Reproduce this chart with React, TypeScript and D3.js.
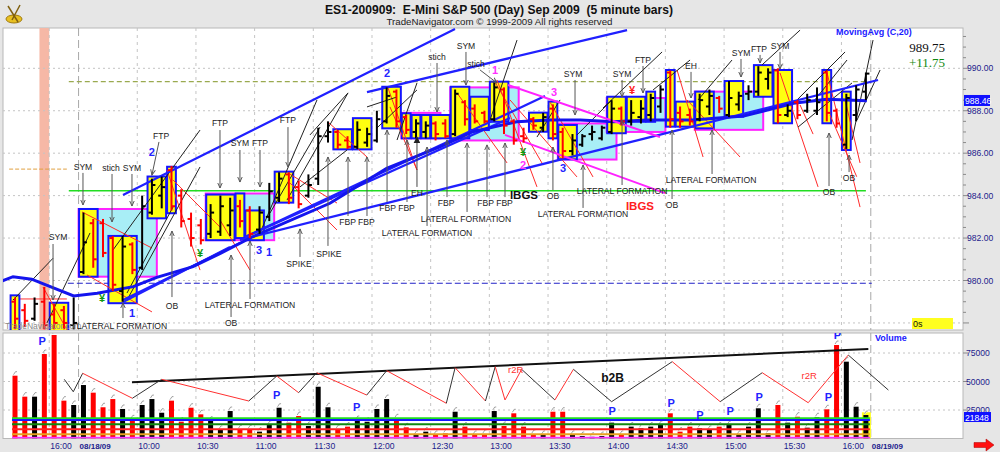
import React from "react";
import * as d3 from "d3";

// ---------------- DATA ----------------
const opens = [
  979.0, 978.6, 978.2, 979.0, 978.4, 978.6, 977.9, 980.4, 982.7, 982.7,
  982.0, 979.5, 981.7, 980.6, 983.2, 984.0, 985.2, 984.0, 982.9, 982.6,
  982.2, 982.3, 982.6, 983.5, 983.3, 982.4, 983.0, 983.9, 985.0, 984.4,
  984.0, 984.8, 986.8, 987.0, 986.6, 986.3, 986.5, 986.6, 987.5, 988.9,
  987.7, 987.0, 987.0, 987.4, 987.4, 986.9, 988.4, 988.1, 987.9, 987.6,
  989.0, 987.5, 986.8, 987.6, 987.2, 988.1, 987.0, 986.1, 986.4, 986.9,
  986.7, 987.0, 988.1, 987.5, 987.7, 987.8, 988.2, 989.8, 987.9, 987.8,
  987.6, 988.2, 988.6, 987.8, 988.3, 988.8, 988.9, 989.5, 989.9, 987.8,
  988.4, 988.0, 988.0, 989.8, 988.0, 986.4, 987.8, 988.9,
];
const highs = [
  979.2, 978.9, 979.2, 979.7, 978.9, 978.8, 979.2, 983.2, 982.9, 982.9,
  982.1, 982.1, 981.8, 984.0, 984.8, 984.9, 985.4, 984.3, 983.2, 982.9,
  983.6, 984.0, 983.9, 983.8, 983.5, 983.5, 984.6, 985.1, 985.1, 984.7,
  985.0, 987.2, 987.5, 987.1, 986.8, 987.5, 987.2, 988.0, 989.1, 989.0,
  987.8, 987.6, 987.5, 987.5, 987.6, 989.0, 988.5, 988.3, 988.0, 989.35,
  989.1, 987.6, 987.2, 987.7, 987.9, 988.3, 987.2, 986.9, 986.9, 987.3,
  987.3, 988.5, 988.2, 988.5, 988.5, 988.8, 989.2, 989.9, 988.2, 988.1,
  988.8, 989.0, 988.7, 989.4, 988.9, 989.2, 990.1, 990.0, 990.0, 988.3,
  988.5, 988.8, 989.1, 989.9, 988.1, 988.8, 989.2, 989.8,
];
const lows = [
  977.7, 977.8, 978.1, 977.7, 977.7, 977.7, 977.7, 980.3, 980.6, 981.1,
  979.5, 979.0, 980.3, 980.5, 983.1, 983.4, 983.3, 982.5, 981.6, 981.7,
  982.0, 982.1, 982.1, 982.5, 982.0, 982.2, 982.8, 983.7, 983.6, 983.4,
  983.9, 984.5, 986.5, 986.2, 986.2, 986.2, 986.3, 986.5, 987.4, 987.2,
  986.9, 986.7, 986.7, 986.6, 986.7, 986.8, 987.3, 987.4, 987.4, 987.5,
  986.9, 986.4, 986.5, 987.1, 987.0, 986.6, 985.75, 985.9, 986.3, 986.6,
  986.6, 986.9, 987.3, 987.3, 987.4, 987.5, 987.9, 987.2, 987.2, 987.3,
  987.5, 987.8, 987.9, 987.7, 988.0, 988.5, 988.7, 989.0, 987.4, 987.7,
  987.6, 987.9, 987.8, 987.5, 987.2, 986.2, 987.5, 988.5,
];
const closes = [
  978.2, 978.1, 978.9, 977.9, 978.0, 978.0, 978.0, 981.8, 981.0, 981.3,
  979.8, 981.6, 980.5, 983.5, 984.5, 984.4, 983.5, 982.8, 982.0, 981.9,
  983.2, 983.5, 983.3, 982.8, 982.2, 983.2, 984.2, 984.8, 983.9, 983.6,
  984.5, 986.8, 987.0, 986.4, 986.3, 987.1, 986.9, 987.6, 988.7, 987.5,
  987.1, 987.4, 987.3, 986.9, 986.8, 988.8, 987.6, 987.5, 987.5, 989.1,
  987.3, 986.6, 986.7, 987.3, 987.7, 986.9, 986.1, 986.6, 986.8, 987.0,
  987.2, 988.1, 987.5, 987.9, 988.1, 988.6, 989.0, 987.6, 987.5, 987.5,
  988.5, 988.7, 988.1, 988.6, 988.7, 988.9, 989.8, 989.8, 987.8, 988.0,
  987.8, 988.5, 988.4, 987.9, 987.4, 988.6, 989.0, 989.75,
];
const volumes = [
  55100, 36700, 36700, 74100, 90800, 33200, 29400, 46900, 40200, 27400,
  34600, 25900, 16800, 29400, 34600, 22600, 33200, 14800, 27000, 21200,
  15600, 7500, 24100, 8100, 8100, 6000, 11800, 27000, 13900, 19700,
  11000, 45400, 27400, 8300, 10400, 16200, 14700, 25900, 34600, 17700,
  9800, 3100, 6000, 3100, 4500, 23500, 10400, 3100, 4000, 24100,
  11000, 22100, 10400, 3900, 3100, 23500, 23500, 3100, 2200, 1500,
  2200, 13900, 3100, 10400, 8900, 10400, 11800, 22100, 6000, 10400,
  8900, 7500, 10400, 11800, 3100, 10400, 26500, 4500, 29400, 13900,
  19100, 9500, 18600, 25600, 82000, 67400, 27900, 20600,
];

const timeLabels = ["16:00", "10:00", "10:30", "11:00", "11:30", "12:00", "12:30", "13:00", "13:30", "14:00", "14:30", "15:00", "15:30", "16:00"];
const timeLabelBars = [3, 12, 18, 24, 30, 36, 42, 48, 54, 60, 66, 72, 78, 84];
const dateLabels = ["08/18/09", "08/19/09"];
const dateLabelBars = [6, 87];
const priceTicks = [978, 980, 982, 984, 986, 988, 990];
const volumeTicks = [25000, 50000, 75000];

// moving average (C,20): [bar, price]
const maPoints: [number, number][] = [
  [-1.5, 979.94], [-0.2, 980.18], [1.7, 980.06], [2.9, 979.84], [6.0, 979.27], [8.4, 979.4],
  [12.1, 979.71], [14.5, 980.15], [18.2, 980.65], [21.0, 981.28], [24.3, 982.06], [32.2, 983.64],
  [38.0, 985.29], [43.5, 986.31], [46.8, 987.01], [51.3, 987.48], [54.7, 987.56], [57.8, 987.56],
  [61.2, 987.48], [64.6, 987.56], [69.3, 987.56], [74.5, 987.75], [79.6, 988.35], [83.0, 988.54],
  [87.1, 988.47],
];

// yellow pattern boxes [firstBar, lastBar, top, bottom]
const yellowBoxes = [
  [0, 0, 979.3, 977.6], [4, 5, 978.95, 977.6], [7, 8, 983.37, 980.18], [10, 12, 982.1, 978.93],
  [14, 15, 984.9, 982.93], [16, 16, 985.36, 983.17], [20, 22, 984.05, 981.9], [23, 23, 984.1, 982.0],
  [24, 25, 983.3, 981.9], [27, 28, 985.13, 983.67], [33, 34, 987.13, 986.18], [35, 36, 987.65, 986.18],
  [38, 39, 989.13, 987.17], [40, 40, 987.88, 986.7], [41, 41, 987.8, 986.7], [42, 42, 987.8, 986.7],
  [43, 44, 987.8, 986.7], [45, 46, 989.13, 986.7], [47, 48, 988.66, 987.09], [49, 50, 989.37, 987.48],
  [53, 54, 987.91, 987.01], [55, 55, 988.43, 986.7], [56, 57, 987.33, 985.71], [61, 62, 988.66, 986.94],
  [63, 64, 988.66, 987.48], [65, 65, 988.9, 987.48], [67, 67, 989.92, 987.25], [68, 69, 988.43, 987.25],
  [70, 71, 988.9, 987.17], [73, 74, 989.4, 987.72], [76, 77, 990.15, 988.66], [78, 79, 989.92, 987.41],
  [83, 83, 989.92, 987.41], [85, 85, 988.9, 986.15],
];
// cyan consolidation boxes
const cyanBoxes = [
  [7, 14, 983.37, 980.18], [20, 26, 984.1, 981.9], [40, 43, 987.9, 986.7], [45, 51, 989.1, 986.6],
  [56, 61, 987.4, 985.7], [61, 66, 988.6, 987.0], [70, 76, 988.9, 987.1],
];

// trend lines [bar1, price1, bar2, price2]
const blueLines = [
  [11.04, 984.03, 44.99, 991.85], [35.99, 988.88, 62.58, 991.8], [23.0, 981.91, 88.24, 989.45],
  [23.52, 982.05, 54.19, 988.69], [23.52, 982.05, 50.61, 987.66], [11.04, 979.08, 23.0, 981.77],
  [11.04, 978.98, 21.98, 981.58],
];
const magentaLines = [
  [50.41, 989.21, 65.95, 986.76], [50.1, 986.86, 66.46, 984.12],
];
const redLines = [
  [6.85, 983.23, 14.0, 981.53], [7.36, 980.26, 14.0, 978.52], [15.54, 985.21, 18.92, 980.49],
  [16.15, 984.74, 20.96, 982.52], [20.96, 982.85, 24.03, 980.49], [27.91, 985.07, 32.92, 983.65],
  [28.12, 984.59, 32.92, 982.38], [32.0, 987.47, 35.99, 985.82], [38.14, 989.07, 41.1, 985.21],
  [45.19, 988.84, 50.31, 985.54], [38.34, 988.18, 41.1, 985.21], [49.28, 989.45, 53.37, 984.41],
  [49.08, 989.35, 54.0, 985.44], [50.61, 988.51, 57.46, 984.88], [54.7, 988.41, 59.1, 984.88],
  [67.69, 989.92, 70.35, 985.82], [68.71, 988.51, 74.13, 985.82], [78.22, 989.78, 82.11, 984.41],
  [83.03, 989.78, 86.4, 983.46], [84.87, 988.51, 86.4, 985.54], [2.86, 979.69, 5.32, 977.67],
  [80.27, 988.27, 81.6, 986.9], [83.33, 987.8, 86.06, 984.89],
];
const blackLines = [
  [-0.2, 979.08, 3.89, 981.05], [3.27, 978.0, 7.67, 982.24], [10.02, 981.44, 18.92, 987.09],
  [11.45, 979.08, 18.92, 985.35], [11.45, 979.41, 16.15, 983.46], [25.05, 982.24, 30.88, 988.51],
  [26.07, 983.18, 31.19, 987.23], [27.81, 983.79, 34.05, 988.84], [29.14, 984.41, 33.95, 986.15],
  [30.16, 986.86, 34.05, 988.84], [35.99, 988.18, 39.06, 988.65], [37.01, 987.19, 41.1, 988.98],
  [39.06, 986.62, 41.1, 989.31], [48.57, 987.56, 51.33, 991.33], [53.37, 986.76, 55.73, 988.51],
  [60.12, 988.13, 66.16, 990.77], [65.24, 988.98, 69.02, 990.39], [69.84, 988.51, 73.31, 990.39],
  [76.38, 990.16, 80.27, 991.8], [79.96, 988.51, 84.87, 990.77], [80.06, 987.23, 85.58, 989.31],
  [85.58, 986.62, 87.73, 991.33], [86.09, 987.56, 88.45, 989.92], [81.6, 988.41, 85.07, 990.39],
  [57.46, 986.86, 61.04, 988.51],
];

// reference levels
const levelGreen = 984.23;
const levelOlive = 989.37;
const levelBlue = 979.87;
const levelOrange = 985.25;
const levelRed = 979.13;

// annotations [text, bar, price(baseline)]
const notes: [string, number, number][] = [
  ["SYM", 4.4, 981.9], ["SYM", 6.95, 985.2], ["stich", 9.82, 985.16], ["SYM", 11.96, 985.16],
  ["FTP", 14.93, 986.67], ["OB", 16.05, 978.66], ["LATERAL FORMATION", 10.94, 977.72],
  ["FTP", 20.96, 987.28], ["SYM", 23.0, 986.34], ["FTP", 25.05, 986.34], ["FTP", 27.9, 987.42],
  ["LATERAL FORMATION", 24.03, 978.7], ["OB", 22.1, 977.86], ["SPIKE", 29.04, 980.64],
  ["SPIKE", 32.1, 981.11], ["FBP FBP", 34.97, 982.62], ["FBP FBP", 39.06, 983.28], ["EH", 41.1, 983.98],
  ["LATERAL FORMATION", 42.13, 982.1], ["FBP", 44.07, 983.51], ["LATERAL FORMATION", 46.11, 982.76],
  ["FBP FBP", 49.08, 983.51], ["stich", 43.15, 990.39], ["SYM", 46.11, 990.91], ["stich", 47.14, 990.06],
  ["OB", 55.0, 983.84], ["LATERAL FORMATION", 58.08, 982.99], ["LATERAL FORMATION", 62.07, 984.08],
  ["SYM", 57.06, 989.59], ["SYM", 62.07, 989.59], ["FTP", 64.21, 990.25], ["EH", 69.12, 989.97],
  ["OB", 67.18, 983.42], ["LATERAL FORMATION", 71.17, 984.59], ["SYM", 74.23, 990.58],
  ["FTP", 76.07, 990.77], ["SYM", 78.22, 990.91], ["OB", 83.23, 984.03], ["OB", 85.28, 984.69],
];
const boldNotes: [string, number, number, string][] = [
  ["IBGS", 52.04, 983.84, "#111"], ["IBGS", 63.9, 983.32, "#ff2020"],
];
const arrows = [
  [3.89, 981.72, 3.89, 979.08], [6.95, 985.07, 6.95, 983.56], [9.92, 985.02, 9.92, 982.76],
  [11.96, 985.02, 11.96, 983.51], [14.72, 986.53, 14.0, 984.97], [16.05, 979.22, 16.05, 982.33],
  [11.04, 978.23, 11.04, 978.94], [20.96, 987.09, 20.96, 984.36], [23.0, 986.15, 23.0, 984.64],
  [25.05, 986.15, 25.05, 984.41], [27.91, 987.23, 27.91, 985.35], [24.03, 979.13, 24.03, 981.86],
  [22.09, 978.28, 22.09, 981.2], [29.14, 981.11, 29.14, 982.43], [32.0, 981.63, 32.0, 985.82],
  [34.05, 983.04, 34.05, 985.82], [35.99, 983.04, 35.99, 985.82], [38.04, 983.7, 38.04, 987.09],
  [40.08, 983.7, 40.08, 986.62], [42.13, 982.57, 42.13, 986.29], [44.17, 983.93, 44.17, 986.62],
  [46.22, 983.23, 46.22, 986.48], [48.26, 983.93, 48.26, 986.39], [50.1, 983.93, 50.1, 986.48],
  [43.15, 990.25, 43.15, 987.94], [46.11, 990.77, 46.11, 989.21], [47.55, 989.92, 49.28, 989.31],
  [55.0, 984.26, 55.0, 986.29], [58.08, 983.42, 58.08, 985.44], [62.07, 984.5, 62.07, 987.56],
  [57.26, 989.45, 57.26, 987.8], [62.07, 989.45, 62.07, 988.65], [64.21, 990.11, 64.21, 988.84],
  [69.12, 989.83, 69.12, 988.6], [67.18, 983.84, 67.18, 987.09], [71.27, 985.02, 71.27, 987.09],
  [74.23, 990.44, 74.23, 989.59], [76.18, 990.63, 76.18, 990.25], [78.22, 990.77, 78.22, 989.97],
  [83.23, 984.45, 83.23, 986.95], [85.28, 985.11, 85.28, 985.91],
];
const filledArrows = [[41.1, 984.41, 41.1, 986.76]];
const blueNums: [string, number, number][] = [
  ["2", 14.0, 985.87], ["1", 11.96, 978.28], ["3", 24.95, 981.25], ["1", 25.97, 981.15],
  ["2", 38.04, 989.59], ["3", 56.03, 985.11],
];
const magentaNums: [string, number, number][] = [
  ["1", 49.08, 989.73], ["2", 51.94, 985.25], ["3", 55.11, 988.69],
];
const yenGreen: [number, number][] = [[8.9, 978.98], [18.92, 981.11], [51.94, 985.87]];
const yenRed: [number, number][] = [[63.09, 988.79]];

// volume panel overlays
const zigzag: [number, number][] = [
  [5.04, 51900], [5.96, 41000], [6.92, 57200], [12.0, 35300], [15.0, 51900], [23.9, 32900],
  [26.76, 54800], [29.0, 40200], [30.85, 57700], [35.96, 38100], [38.0, 59500], [44.1, 30900],
  [45.0, 62100], [48.1, 32900], [49.1, 63000], [50.1, 33800], [51.8, 60700], [55.2, 33800],
  [57.1, 60700], [61.0, 32300], [67.2, 67400], [72.1, 32300], [76.4, 57700], [81.1, 31400],
  [85.2, 73200], [89.3, 42500],
];
// 1 = red segment, 0 = black segment (segment ending at point i+1)
const zigzagRed = [0, 0, 1, 0, 1, 0, 1, 0, 1, 0, 1, 0, 1, 0, 1, 1, 0, 1, 0, 0, 1, 0, 1, 1, 0];
const volTrend = [[11.96, 49300], [87.25, 78500]];
const volBands = [17700, 16200, 12500, 8100, 3700, 700];
const volBandColors = ["#22dd22", "#1818ff", "#118811", "#ff2222", "#e8a020", "#ff30ff"];
const pMarks: [number, number][] = [
  [2.79, 81600], [26.76, 34600], [34.94, 23900], [61.07, 20600], [67.08, 27900], [70.04, 17100],
  [73.11, 20600], [76.1, 33200], [83.16, 33200], [84.08, 87300],
];
const volNotes: [string, number, number, string][] = [
  ["r2R", 51.2, 57200, "red"], ["r2R", 81.2, 52200, "red"], ["b2B", 61.1, 49600, "black"],
];

// ---------------- CHART ----------------
const PL = 3, PR = 963, MT = 28, MB = 330, VT = 333, VB = 438.5;

export default function App() {
  const x = d3.scaleLinear().domain([0, 87]).range([15, 865.9]);
  const yP = d3.scaleLinear().domain([980, 990]).range([280.5, 68.3]);
  const yV = d3.scaleLinear().domain([0, 75000]).range([438.5, 353]);
  const half = (x(1) - x(0)) / 2;
  const maLine = d3.line<[number, number]>().x((d) => x(d[0])).y((d) => yP(d[1]));
  const font = "Arial, 'Liberation Sans', sans-serif";
  const navy = "#1c1c8c";

  const minorTicks = d3.range(978, 991.6, 0.5);
  const gridXs = timeLabelBars.map((k) => x(k) + half);
  const sepXs = dateLabelBars.map((k) => x(k) + half);

  const seg = (d: number[], i: number, stroke: string, w: number, extra: any = {}) => (
    <line key={i} x1={x(d[0])} y1={yP(d[1])} x2={x(d[2])} y2={yP(d[3])} stroke={stroke} strokeWidth={w} {...extra} />
  );

  return (
    <div style={{ position: "fixed", left: 0, top: 0 }}>
      <svg width={1000} height={452} style={{ display: "block" }} fontFamily={font}>
        <defs>
          <clipPath id="cm"><rect x={PL} y={MT} width={PR - PL} height={MB - MT} /></clipPath>
          <clipPath id="cv"><rect x={PL} y={VT} width={PR - PL} height={VB - VT} /></clipPath>
          <marker id="ah" viewBox="0 0 10 10" refX="9" refY="5" markerWidth="6" markerHeight="6" orient="auto">
            <path d="M0,1 L9,5 L0,9" fill="none" stroke="#555" strokeWidth="1.6" />
          </marker>
          <marker id="ahf" viewBox="0 0 10 10" refX="9" refY="5" markerWidth="7" markerHeight="7" orient="auto">
            <path d="M0,0 L10,5 L0,10 Z" fill="#222" />
          </marker>
        </defs>
        <rect x={0} y={0} width={1000} height={452} fill="#e6e6e6" />
        {/* logo */}
        <g>
          <ellipse cx={14} cy={19} rx={8} ry={4} fill="#e8c020" stroke="#a07a10" />
          <line x1={8} y1={6} x2={18} y2={22} stroke="#806010" strokeWidth={1.5} />
          <line x1={20} y1={5} x2={12} y2={20} stroke="#806010" strokeWidth={1.5} />
        </g>
        <text x={499} y={14} textAnchor="middle" fontSize={13} fontWeight="bold" textLength={348} lengthAdjust="spacingAndGlyphs" fill="#111" xmlSpace="preserve">
          ES1-200909:  E-Mini S&amp;P 500 (Day) Sep 2009  (5 minute bars)
        </text>
        <text x={499.5} y={25} textAnchor="middle" fontSize={9.5} textLength={226} lengthAdjust="spacingAndGlyphs" fill="#222">
          TradeNavigator.com © 1999-2009 All rights reserved
        </text>

        {/* panels */}
        <rect x={PL} y={MT} width={PR - PL} height={MB - MT} fill="#fff" stroke="#b8b8b8" />
        <rect x={PL} y={VT} width={PR - PL} height={VB - VT} fill="#fff" stroke="#b8b8b8" />

        {/* MAIN PANEL */}
        <g clipPath="url(#cm)">
          <rect x={x(3) - half} y={MT} width={half * 2} height={MB - MT} fill="#f6b8a6" />
          {priceTicks.map((p) => (
            <line key={p} x1={PL} x2={PR} y1={yP(p)} y2={yP(p)} stroke="#c4c4c4" strokeDasharray="2,3" />
          ))}
          {gridXs.map((gx, i) => (
            <line key={i} x1={gx} x2={gx} y1={MT} y2={MB} stroke="#c4c4c4" strokeDasharray="3,4" />
          ))}
          {sepXs.map((gx, i) => (
            <line key={i} x1={gx} x2={gx} y1={MT} y2={MB} stroke="#a8a8a8" strokeDasharray="8,4" />
          ))}
          <line x1={x(5.5)} x2={x(87.6)} y1={yP(levelOlive)} y2={yP(levelOlive)} stroke="#9aaa50" strokeWidth={1.3} strokeDasharray="5,3" />
          <line x1={x(5.5)} x2={x(87)} y1={yP(levelGreen)} y2={yP(levelGreen)} stroke="#22dd22" strokeWidth={1.3} />
          <line x1={x(5.4)} x2={x(87.6)} y1={yP(levelBlue)} y2={yP(levelBlue)} stroke="#2020c8" strokeWidth={1} strokeDasharray="6,3" />
          <line x1={x(-0.6)} x2={x(5.3)} y1={yP(levelOrange)} y2={yP(levelOrange)} stroke="#e0a040" strokeWidth={1} strokeDasharray="4,2" />
          <line x1={x(0)} x2={x(5.3)} y1={yP(levelRed)} y2={yP(levelRed)} stroke="#ff3030" strokeWidth={1} />

          {cyanBoxes.map((b, i) => (
            <rect key={i} x={x(b[0]) - half} y={yP(b[2])} width={x(b[1]) - x(b[0]) + 2 * half} height={yP(b[3]) - yP(b[2])}
              fill="#a8eef6" stroke="#ff22ff" strokeWidth={2} />
          ))}
          {yellowBoxes.map((b, i) => (
            <rect key={i} x={x(b[0]) - half + 0.5} y={yP(b[2])} width={x(b[1]) - x(b[0]) + 2 * half - 1} height={yP(b[3]) - yP(b[2])}
              fill="#ffff10" stroke="#1414ff" strokeWidth={2} />
          ))}
          {redLines.map((d, i) => seg(d, i, "#ff2a2a", 1))}
          {blackLines.map((d, i) => seg(d, i, "#222", 1))}
          {blueLines.map((d, i) => seg(d, i, "#2020ff", 2.2))}
          <path d={maLine(maPoints) || ""} fill="none" stroke="#1414ee" strokeWidth={3} />
          {magentaLines.map((d, i) => seg(d, i, "#ff22ff", 2))}

          {opens.map((o, i) => {
            const c = closes[i];
            const col = c >= o ? "#000" : "#ff0000";
            const xx = x(i);
            return (
              <g key={i} stroke={col} strokeWidth={2}>
                <line x1={xx} x2={xx} y1={yP(highs[i])} y2={yP(lows[i])} />
                <line x1={xx - 3.5} x2={xx} y1={yP(o)} y2={yP(o)} />
                <line x1={xx} x2={xx + 3.5} y1={yP(c)} y2={yP(c)} />
              </g>
            );
          })}

          {arrows.map((d, i) => seg(d, i, "#555", 1, { markerEnd: "url(#ah)" }))}
          {filledArrows.map((d, i) => seg(d, i, "#444", 1, { markerEnd: "url(#ahf)" }))}
          <text x={5} y={329} fontSize={8.5} fill="#888">TradeNavigator.com</text>
          {notes.map((n, i) => (
            <text key={i} x={x(n[1])} y={yP(n[2])} textAnchor="middle" fontSize={8.6} fill="#222">{n[0]}</text>
          ))}
          {boldNotes.map((n, i) => (
            <text key={i} x={x(n[1])} y={yP(n[2])} textAnchor="middle" fontSize={11.5} fontWeight="bold" fill={n[3]}>{n[0]}</text>
          ))}
          {blueNums.map((n, i) => (
            <text key={i} x={x(n[1])} y={yP(n[2])} textAnchor="middle" fontSize={11} fontWeight="bold" fill="#2424ff">{n[0]}</text>
          ))}
          {magentaNums.map((n, i) => (
            <text key={i} x={x(n[1])} y={yP(n[2])} textAnchor="middle" fontSize={11} fontWeight="bold" fill="#ff30ff">{n[0]}</text>
          ))}
          {yenGreen.map((n, i) => (
            <text key={i} x={x(n[0])} y={yP(n[1])} textAnchor="middle" fontSize={11} fontWeight="bold" fill="#119911">¥</text>
          ))}
          {yenRed.map((n, i) => (
            <text key={i} x={x(n[0])} y={yP(n[1])} textAnchor="middle" fontSize={11} fontWeight="bold" fill="#ff2020">¥</text>
          ))}
        </g>
        <text x={836} y={35} fontSize={9} fontWeight="bold" fill="#1a1aff">MovingAvg (C,20)</text>
        <text x={945} y={52} textAnchor="end" fontSize={13} fontFamily="'Liberation Serif', 'DejaVu Serif', serif" fill="#111">989.75</text>
        <text x={945} y={67} textAnchor="end" fontSize={13} fontFamily="'Liberation Serif', 'DejaVu Serif', serif" fill="#118811">+11.75</text>
        <rect x={912} y={318} width={41} height={11} fill="#ffff20" />
        <text x={913} y={327} fontSize={9} fill="#111">0s</text>

        {/* price axis */}
        {minorTicks.map((p, i) => (
          <line key={i} x1={PR} x2={PR + (p % 2 === 0 ? 6 : 3)} y1={yP(p)} y2={yP(p)} stroke="#8a8a8a" />
        ))}
        {priceTicks.filter((p) => p >= 980).map((p) => (
          <text key={p} x={967} y={yP(p) + 3} fontSize={8.6} fill={navy}>{p.toFixed(2)}</text>
        ))}
        <rect x={964} y={yP(988.46) - 6} width={26} height={11} fill="#1010ff" />
        <text x={965} y={yP(988.46) + 3} fontSize={8.6} fill="#fff">988.46</text>

        {/* VOLUME PANEL */}
        <g clipPath="url(#cv)">
          {volumeTicks.map((v) => (
            <line key={v} x1={PL} x2={PR} y1={yV(v)} y2={yV(v)} stroke="#c4c4c4" strokeDasharray="2,3" />
          ))}
          {gridXs.map((gx, i) => (
            <line key={i} x1={gx} x2={gx} y1={VT} y2={VB} stroke="#c4c4c4" strokeDasharray="3,4" />
          ))}
          {sepXs.map((gx, i) => (
            <line key={i} x1={gx} x2={gx} y1={VT} y2={VB} stroke="#a8a8a8" strokeDasharray="8,4" />
          ))}
          <rect x={x(87) - 4} y={yV(23000)} width={9} height={yV(0) - yV(23000)} fill="#ffff20" />
          {volumes.map((v, i) => {
            const col = closes[i] >= opens[i] ? "#000" : "#ff0000";
            const xx = x(i);
            const d = `M${xx - 1.5},${yV(v) - 1} L${xx + 0.5},${yV(v) - 4} L${xx + 2},${yV(v) - 4}`;
            return (
              <g key={i}>
                <rect x={xx - 2.5} y={yV(v)} width={5} height={yV(0) - yV(v)} fill={col} />
                <path d={d} fill="none" stroke="#fff" strokeWidth={1.4} />
                <path d={d} fill="none" stroke="#444" strokeWidth={0.5} />
              </g>
            );
          })}
          {volBands.map((v, i) => (
            <line key={i} x1={12} x2={x(87) + 4} y1={yV(v)} y2={yV(v)} stroke={volBandColors[i]} strokeWidth={2} />
          ))}
          <line x1={x(volTrend[0][0])} y1={yV(volTrend[0][1])} x2={x(volTrend[1][0])} y2={yV(volTrend[1][1])} stroke="#111" strokeWidth={2} />
          {zigzag.slice(1).map((p, i) => (
            <line key={i} x1={x(zigzag[i][0])} y1={yV(zigzag[i][1])} x2={x(p[0])} y2={yV(p[1])}
              stroke={zigzagRed[i] ? "#ff3030" : "#333"} strokeWidth={1} />
          ))}
          {pMarks.map((p, i) => (
            <text key={i} x={x(p[0])} y={yV(p[1])} textAnchor="middle" fontSize={11} fontWeight="bold" fill="#2222ff">P</text>
          ))}
          {volNotes.map((n, i) => (
            <text key={i} x={x(n[1])} y={yV(n[2])} textAnchor="middle" fontSize={n[3] === "black" ? 12 : 9.5}
              fontWeight={n[3] === "black" ? "bold" : "normal"} fill={n[3] === "black" ? "#111" : "#ff3030"}>{n[0]}</text>
          ))}
        </g>
        <text x={875} y={341} fontSize={9} fontWeight="bold" fill="#1a1aff">Volume</text>
        {volumeTicks.map((v) => (
          <g key={v}>
            <line x1={PR} x2={PR + 5} y1={yV(v)} y2={yV(v)} stroke="#8a8a8a" />
            <text x={966} y={yV(v) + 3} fontSize={8.6} fill={navy}>{v}</text>
          </g>
        ))}
        <rect x={964} y={yV(volumes[87]) - 3} width={27} height={10} fill="#1010ff" />
        <text x={965} y={yV(volumes[87]) + 5.5} fontSize={8.6} fill="#fff">21848</text>

        {/* time axis */}
        {timeLabels.map((t, i) => (
          <text key={i} x={gridXs[i] + 1} y={449} fontSize={8.6} fill={navy}>{t}</text>
        ))}
        {dateLabels.map((t, i) => (
          <text key={i} x={sepXs[i] + 1} y={449} fontSize={8} fontWeight="bold" fill={navy}>{t}</text>
        ))}
        <path d="M974,442.5 L986,442.5 L986,439 L994,445 L986,451 L986,447.5 L974,447.5 Z" fill="#ff1010" stroke="#a00" strokeWidth={0.5} />
      </svg>
    </div>
  );
}
